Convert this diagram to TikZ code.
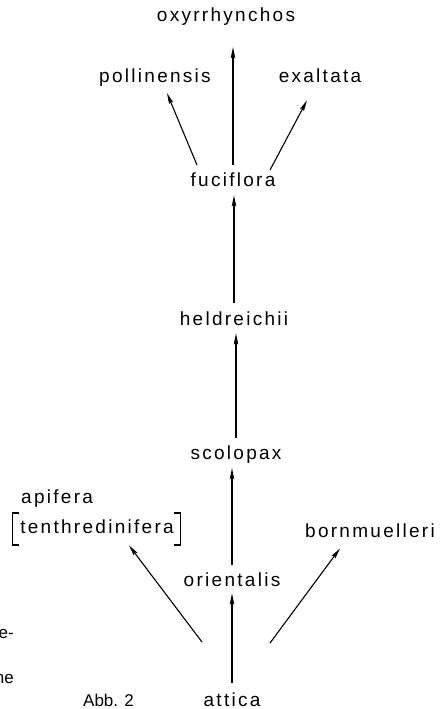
\documentclass[tikz,border=0pt]{standalone}
\usepackage{fontspec}
\setmainfont{Liberation Sans}
\newfontfamily\taxonfont[LetterSpace=12]{Liberation Sans}
\usetikzlibrary{arrows.meta}
\begin{document}
\begin{tikzpicture}[x=1pt,y=-1pt,
  taxon/.style={font=\taxonfont\fontsize{19}{19}\selectfont, inner sep=0pt, anchor=base},
  note/.style={font=\fontsize{17}{17}\selectfont, inner sep=0pt},
  arr/.style={-{Stealth[length=11pt,width=4.5pt,inset=2pt]}, line width=1.1pt},
  brk/.style={line width=1.1pt}]
\useasboundingbox (0,0) rectangle (441,709);

% taxa
\node[taxon] (oxy)   at (226,22)  {oxyrrhynchos};
\node[taxon] (poll)  at (155,82)  {pollinensis};
\node[taxon] (exa)   at (320,82)  {exaltata};
\node[taxon] (fuc)   at (233,186) {fuciflora};
\node[taxon] (held)  at (234,325) {heldreichii};
\node[taxon] (scol)  at (236,459) {scolopax};
\node[taxon, anchor=base west] (api) at (21,503) {apifera};
\node[taxon] (tenth) at (97,533)  {tenthredinifera};
\node[taxon] (born)  at (370,537) {bornmuelleri};
\node[taxon] (ori)   at (232,586) {orientalis};
\node[taxon] (att)   at (232,706) {attica};

% brackets round tenthredinifera
\draw[brk] ([shift={(-1,-6)}]tenth.north west) -- ++(-7,0) -- ++(0,32) -- ++(7,0);
\draw[brk] ([shift={(0,-6)}]tenth.north east) -- ++(7,0) -- ++(0,32) -- ++(-7,0);

% caption and cut-off text at the margin
\node[note, anchor=base west] (abb) at (83,706) {Abb. 2};
\node[note, anchor=base east] (frag1) at (14,638) {e-};
\node[note, anchor=base east] (frag2) at (14,683) {ne};

% derivation arrows
\draw[arr, shorten <=7pt, shorten >=21pt] (fuc.north) -- (fuc.north |- oxy.south);
\draw[arr] ([shift={(-36,-7)}]fuc.north) -- ([shift={(12,7)}]poll.south);
\draw[arr] ([shift={(37,-2)}]fuc.north) -- ([shift={(-13,18)}]exa.south);
\draw[arr, shorten <=8pt, shorten >=9pt] (held.north) -- (held.north |- fuc.south);
\draw[arr, shorten <=7pt, shorten >=8pt] (scol.north) -- (scol.north |- held.south);
\draw[arr, shorten <=7pt, shorten >=5pt] (ori.north) -- (ori.north |- scol.south);
\draw[arr, shorten <=9pt, shorten >=7pt] (att.north) -- (att.north |- ori.south);
\draw[arr] ([shift={(-30,-50)}]att.north) -- ([shift={(32,12)}]tenth.south);
\draw[arr] ([shift={(38,-49)}]att.north) -- ([shift={(-30,11)}]born.south);
\end{tikzpicture}
\end{document}
